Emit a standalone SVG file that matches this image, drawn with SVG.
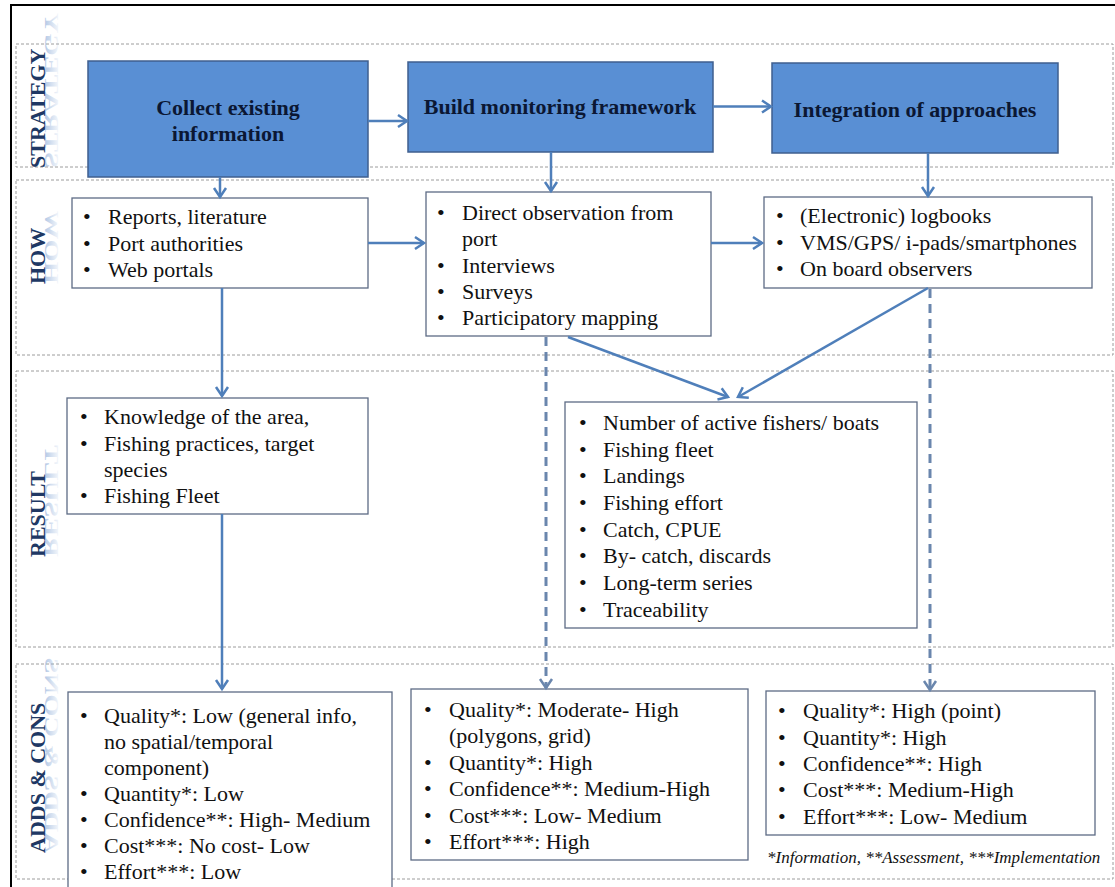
<svg xmlns="http://www.w3.org/2000/svg" width="1115" height="887" viewBox="0 0 1115 887">
  <defs>
    <marker id="open-arrow" markerUnits="userSpaceOnUse" markerWidth="20" markerHeight="20" refX="0" refY="0" viewBox="-12 -10 14 20" orient="auto" overflow="visible">
      <path d="M-9,-6 L0,0 L-9,6" fill="none" stroke="#4f7fba" stroke-width="2.5" stroke-linejoin="miter"/>
    </marker>
    <marker id="open-arrow-dash" markerUnits="userSpaceOnUse" markerWidth="20" markerHeight="20" refX="0" refY="0" viewBox="-12 -10 14 20" orient="auto" overflow="visible">
      <path d="M-9,-6 L0,0 L-9,6" fill="none" stroke="#6a86ad" stroke-width="2.5"/>
    </marker>
    <!-- fade for the mirrored row labels: strong near the baseline, gone at the far edge -->
    <linearGradient id="ghost-fade" x1="0" y1="0" x2="0" y2="1">
      <stop offset="0" stop-color="#9ab7de" stop-opacity="0"/>
      <stop offset="1" stop-color="#7fa3d3" stop-opacity="0.75"/>
    </linearGradient>
    <style>
      .band { fill: none; stroke: #9c9c9c; stroke-width: 1; stroke-dasharray: 3 2; }
      .strategy { fill: #598fd4; stroke: #3f5f8f; stroke-width: 1.5; }
      .strategy-text { font-family: "Liberation Serif", "Times New Roman", serif; font-size: 22px; font-weight: bold; fill: #0b1733; text-anchor: middle; }
      .box { fill: #ffffff; stroke: #5d6b85; stroke-width: 1.3; }
      .item { font-family: "Liberation Serif", "Times New Roman", serif; font-size: 22px; fill: #111111; }
      .row-label { font-family: "Liberation Serif", "Times New Roman", serif; font-size: 22px; font-weight: bold; fill: #203864; }
      .row-ghost { font-family: "Liberation Serif", "Times New Roman", serif; font-size: 22px; font-weight: bold; fill: url(#ghost-fade); }
      .link { fill: none; stroke: #4f7fba; stroke-width: 2.5; marker-end: url(#open-arrow); }
      .link-dashed { fill: none; stroke: #6a86ad; stroke-width: 3; stroke-dasharray: 9 6; marker-end: url(#open-arrow-dash); }
      .note { font-family: "Liberation Serif", "Times New Roman", serif; font-size: 17px; font-style: italic; fill: #111111; }
    </style>
  </defs>

  <rect x="0" y="0" width="1115" height="887" fill="#ffffff"/>

  <!-- outer frame -->
  <path d="M1116,5 H11 V888" fill="none" stroke="#000000" stroke-width="2"/>

  <!-- row bands -->
  <g id="bands">
    <rect class="band" x="16" y="44" width="1097" height="123"/>
    <rect class="band" x="16" y="180" width="1097" height="175"/>
    <rect class="band" x="16" y="371" width="1097" height="276"/>
    <rect class="band" x="16" y="664" width="1097" height="215"/>
  </g>

  <!-- row labels with reflection -->
  <g id="label-strategy">
    <text class="row-ghost" transform="translate(45,168) rotate(-90) scale(1.3,-0.85)">STRATEGY</text>
    <text class="row-label" transform="translate(45,168) rotate(-90)">STRATEGY</text>
  </g>
  <g id="label-how">
    <text class="row-ghost" transform="translate(45,284) rotate(-90) scale(1.3,-0.85)">HOW</text>
    <text class="row-label" transform="translate(45,284) rotate(-90)">HOW</text>
  </g>
  <g id="label-result">
    <text class="row-ghost" transform="translate(45,557) rotate(-90) scale(1.3,-0.85)">RESULT</text>
    <text class="row-label" transform="translate(45,557) rotate(-90)">RESULT</text>
  </g>
  <g id="label-adds">
    <text class="row-ghost" transform="translate(45,853) rotate(-90) scale(1.3,-0.85)">ADDS &amp; CONS</text>
    <text class="row-label" transform="translate(45,853) rotate(-90)">ADDS &amp; CONS</text>
  </g>

  <!-- strategy nodes -->
  <g id="node-collect">
    <rect class="strategy" x="88" y="61" width="280" height="116"/>
    <text class="strategy-text" x="228" y="115">Collect existing</text>
    <text class="strategy-text" x="228" y="141">information</text>
  </g>
  <g id="node-build">
    <rect class="strategy" x="408" y="62" width="305" height="90"/>
    <text class="strategy-text" x="560" y="114">Build monitoring framework</text>
  </g>
  <g id="node-integration">
    <rect class="strategy" x="772" y="63" width="286" height="90"/>
    <text class="strategy-text" x="915" y="117">Integration of approaches</text>
  </g>

  <!-- how nodes -->
  <g id="node-how-sources">
    <rect class="box" x="72" y="198" width="296" height="90"/>
    <text class="item" x="83" y="224">•</text><text class="item" x="108" y="224">Reports, literature</text>
    <text class="item" x="83" y="250.5">•</text><text class="item" x="108" y="250.5">Port authorities</text>
    <text class="item" x="83" y="277">•</text><text class="item" x="108" y="277">Web portals</text>
  </g>
  <g id="node-how-field">
    <rect class="box" x="426" y="192" width="285" height="144"/>
    <text class="item" x="437" y="220">•</text><text class="item" x="462" y="220">Direct observation from</text>
    <text class="item" x="462" y="246">port</text>
    <text class="item" x="437" y="272.5">•</text><text class="item" x="462" y="272.5">Interviews</text>
    <text class="item" x="437" y="299">•</text><text class="item" x="462" y="299">Surveys</text>
    <text class="item" x="437" y="325">•</text><text class="item" x="462" y="325">Participatory mapping</text>
  </g>
  <g id="node-how-tech">
    <rect class="box" x="764" y="197" width="328" height="91"/>
    <text class="item" x="776" y="223">•</text><text class="item" x="800" y="223">(Electronic) logbooks</text>
    <text class="item" x="776" y="250">•</text><text class="item" x="800" y="250">VMS/GPS/ i-pads/smartphones</text>
    <text class="item" x="776" y="276">•</text><text class="item" x="800" y="276">On board observers</text>
  </g>

  <!-- result nodes -->
  <g id="node-result-general">
    <rect class="box" x="67" y="398" width="301" height="116"/>
    <text class="item" x="80" y="424">•</text><text class="item" x="104" y="424">Knowledge of the area,</text>
    <text class="item" x="80" y="450.5">•</text><text class="item" x="104" y="450.5">Fishing practices, target</text>
    <text class="item" x="104" y="477">species</text>
    <text class="item" x="80" y="503">•</text><text class="item" x="104" y="503">Fishing Fleet</text>
  </g>
  <g id="node-result-metrics">
    <rect class="box" x="565" y="402" width="352" height="226"/>
    <text class="item" x="579" y="430">•</text><text class="item" x="603" y="430">Number of active fishers/ boats</text>
    <text class="item" x="579" y="456.5">•</text><text class="item" x="603" y="456.5">Fishing fleet</text>
    <text class="item" x="579" y="483">•</text><text class="item" x="603" y="483">Landings</text>
    <text class="item" x="579" y="510">•</text><text class="item" x="603" y="510">Fishing effort</text>
    <text class="item" x="579" y="536.5">•</text><text class="item" x="603" y="536.5">Catch, CPUE</text>
    <text class="item" x="579" y="563">•</text><text class="item" x="603" y="563">By- catch, discards</text>
    <text class="item" x="579" y="590">•</text><text class="item" x="603" y="590">Long-term series</text>
    <text class="item" x="579" y="616.5">•</text><text class="item" x="603" y="616.5">Traceability</text>
  </g>

  <!-- adds & cons nodes -->
  <g id="node-adds-existing">
    <rect class="box" x="68" y="692" width="324" height="220"/>
    <text class="item" x="80" y="723">•</text><text class="item" x="104" y="723">Quality*: Low (general info,</text>
    <text class="item" x="104" y="749">no spatial/temporal</text>
    <text class="item" x="104" y="775">component)</text>
    <text class="item" x="80" y="801">•</text><text class="item" x="104" y="801">Quantity*: Low</text>
    <text class="item" x="80" y="827">•</text><text class="item" x="104" y="827">Confidence**: High- Medium</text>
    <text class="item" x="80" y="853">•</text><text class="item" x="104" y="853">Cost***: No cost- Low</text>
    <text class="item" x="80" y="879">•</text><text class="item" x="104" y="879">Effort***: Low</text>
  </g>
  <g id="node-adds-framework">
    <rect class="box" x="411" y="689" width="337" height="171"/>
    <text class="item" x="424" y="717">•</text><text class="item" x="449" y="717">Quality*: Moderate- High</text>
    <text class="item" x="449" y="743">(polygons, grid)</text>
    <text class="item" x="424" y="770">•</text><text class="item" x="449" y="770">Quantity*: High</text>
    <text class="item" x="424" y="796">•</text><text class="item" x="449" y="796">Confidence**: Medium-High</text>
    <text class="item" x="424" y="822.5">•</text><text class="item" x="449" y="822.5">Cost***: Low- Medium</text>
    <text class="item" x="424" y="849">•</text><text class="item" x="449" y="849">Effort***: High</text>
  </g>
  <g id="node-adds-integration">
    <rect class="box" x="766" y="691" width="329" height="144"/>
    <text class="item" x="778" y="718">•</text><text class="item" x="803" y="718">Quality*: High (point)</text>
    <text class="item" x="778" y="744.5">•</text><text class="item" x="803" y="744.5">Quantity*: High</text>
    <text class="item" x="778" y="771">•</text><text class="item" x="803" y="771">Confidence**: High</text>
    <text class="item" x="778" y="797">•</text><text class="item" x="803" y="797">Cost***: Medium-High</text>
    <text class="item" x="778" y="823.5">•</text><text class="item" x="803" y="823.5">Effort***: Low- Medium</text>
  </g>

  <g id="footnote">
    <text class="note" x="767" y="863">*Information, **Assessment, ***Implementation</text>
  </g>

  <!-- connectors -->
  <g id="connectors">
    <line class="link" x1="368" y1="121" x2="407" y2="121"/>
    <line class="link" x1="713" y1="106.5" x2="771" y2="106.5"/>
    <line class="link" x1="220" y1="177" x2="220" y2="197"/>
    <line class="link" x1="551" y1="152" x2="551" y2="191"/>
    <line class="link" x1="928" y1="153" x2="928" y2="196"/>
    <line class="link" x1="368" y1="243" x2="424" y2="243"/>
    <line class="link" x1="711" y1="243" x2="762" y2="243"/>
    <line class="link" x1="222" y1="288" x2="222" y2="396"/>
    <line class="link" x1="568" y1="337" x2="728" y2="397"/>
    <line class="link" x1="928" y1="288" x2="738" y2="397"/>
    <line class="link" x1="222" y1="514" x2="222" y2="689"/>
    <line class="link-dashed" x1="546" y1="337" x2="546" y2="688"/>
    <line class="link-dashed" x1="930" y1="289" x2="930" y2="690"/>
  </g>
</svg>
